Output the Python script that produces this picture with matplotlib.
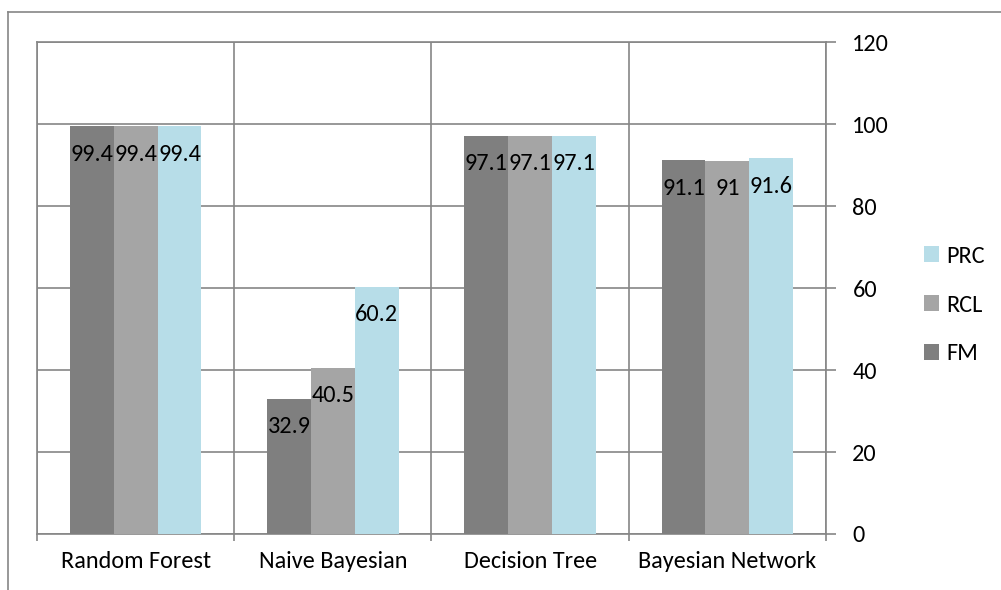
import matplotlib
matplotlib.use("Agg")
import matplotlib.pyplot as plt
from matplotlib import font_manager
from matplotlib.patches import Patch
from matplotlib.lines import Line2D
import numpy as np

# pick a Calibri-like font that is actually installed
installed = {f.name for f in font_manager.fontManager.ttflist}
families = [f for f in ["Carlito", "Lato", "DejaVu Sans"] if f in installed]
plt.rcParams["font.family"] = families

categories = ["Random Forest", "Naive Bayesian", "Decision Tree", "Bayesian Network"]
fm = [99.4, 32.9, 97.1, 91.1]
rcl = [99.4, 40.5, 97.1, 91]
prc = [99.4, 60.2, 97.1, 91.6]
series_names = ["FM", "RCL", "PRC"]
colors = ["#7f7f7f", "#a5a5a5", "#b7dde8"]
yticks = [0, 20, 40, 60, 80, 100, 120]

grid_col = "#868686"
fs = 17.5

fig = plt.figure(figsize=(10.01, 5.90), dpi=100)
ax = fig.add_axes([37 / 1001, 1 - 534 / 590, (826 - 37) / 1001, (534 - 42) / 590])

x = np.arange(len(categories))
w = 0.2225
handles = []
for k, (name, vals, c) in enumerate(zip(series_names, [fm, rcl, prc], colors)):
    pos = x + (k - 1) * w
    ax.bar(pos, vals, width=w, color=c, edgecolor="none", zorder=3)
    for px, v in zip(pos, vals):
        ax.annotate(f"{v:g}", xy=(px, v), xytext=(0, -20), textcoords="offset points",
                    ha="center", va="center", fontsize=fs, color="black", zorder=4)
    handles.append(Patch(facecolor=c, edgecolor="none", label=name))

ax.set_xlim(-0.5, len(categories) - 0.5)
ax.set_ylim(0, 120)

# y axis on the right
ax.yaxis.tick_right()
ax.set_yticks(yticks)
ax.tick_params(axis="y", which="major", length=7, width=1.2, color=grid_col,
               pad=12, labelsize=fs, right=True, left=False)

# x: ticks at category boundaries, labels at centres
ax.set_xticks(np.arange(-0.5, len(categories), 1.0))
ax.set_xticklabels([])
ax.set_xticks(x, minor=True)
ax.set_xticklabels(categories, minor=True, fontsize=fs)
ax.tick_params(axis="x", which="major", length=5, width=1.2, color=grid_col)
ax.tick_params(axis="x", which="minor", length=0, pad=12)

ax.grid(True, which="major", color=grid_col, linewidth=1.2, zorder=0)
ax.set_axisbelow(True)
for s in ["left", "right", "top", "bottom"]:
    ax.spines[s].set_color(grid_col)
    ax.spines[s].set_linewidth(1.2)

leg = fig.legend(handles=handles[::-1], loc="center left",
                 bbox_to_anchor=(924 / 1001, 1 - 305 / 590), frameon=False,
                 fontsize=fs, handlelength=0.6, handleheight=0.6,
                 handletextpad=0.3, labelspacing=1.15, borderpad=0, borderaxespad=0)

# outer chart frame (cropped at right and bottom)
fig.add_artist(Line2D([8 / 1001, 1.0], [1 - 12 / 590, 1 - 12 / 590],
                      transform=fig.transFigure, color=grid_col, linewidth=1.2))
fig.add_artist(Line2D([8 / 1001, 8 / 1001], [0.0, 1 - 12 / 590],
                      transform=fig.transFigure, color=grid_col, linewidth=1.2))

fig.savefig("out.png", dpi=100)
